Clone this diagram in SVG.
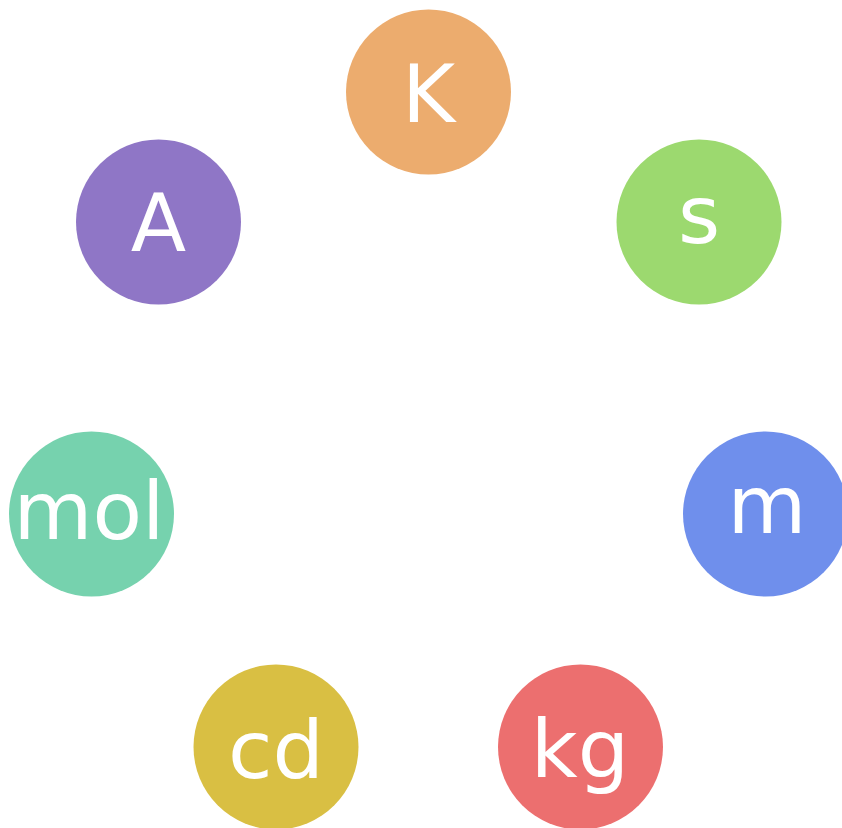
<svg xmlns="http://www.w3.org/2000/svg" width="842" height="828" viewBox="0 0 842 828">
<style>
.n{stroke:none}
.t{font-family:"DejaVu Sans",sans-serif;font-size:81px;fill:#ffffff;text-anchor:middle}
</style>
<rect width="842" height="828" fill="#ffffff"/>
<g id="connectors"></g>
<g id="node-K"><circle class="n" cx="428.5" cy="92" r="82.5" fill="#ecac6e"/><text class="t" x="428.5" y="122">K</text></g>
<g id="node-s"><circle class="n" cx="699" cy="222" r="82.5" fill="#9cd96f"/><text class="t" x="699" y="243">s</text></g>
<g id="node-A"><circle class="n" cx="158.5" cy="222" r="82.5" fill="#8f76c6"/><text class="t" x="158.5" y="251">A</text></g>
<g id="node-mol"><circle class="n" cx="91.5" cy="514" r="82.5" fill="#76d2ae"/><text class="t" x="89" y="539">mol</text></g>
<g id="node-m"><circle class="n" cx="765.5" cy="514" r="82.5" fill="#6f8fec"/><text class="t" x="767" y="533">m</text></g>
<g id="node-cd"><circle class="n" cx="276" cy="747" r="82.5" fill="#d9bf43"/><text class="t" x="276" y="778">cd</text></g>
<g id="node-kg"><circle class="n" cx="580.5" cy="747" r="82.5" fill="#ec6f6f"/><text class="t" x="580" y="777">kg</text></g>
</svg>
